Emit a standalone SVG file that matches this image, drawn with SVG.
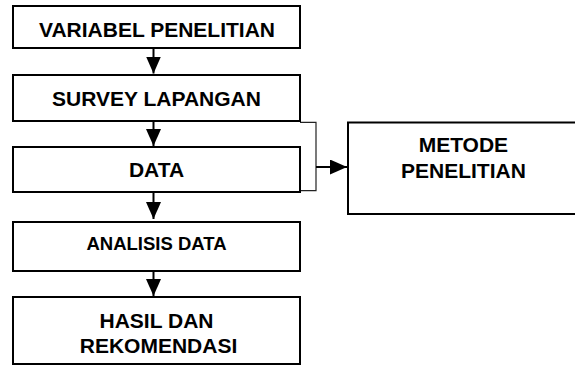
<svg xmlns="http://www.w3.org/2000/svg" width="575" height="365" viewBox="0 0 575 365">
<style>
.box{fill:#fff;stroke:#000;stroke-width:2}
.t{font-family:"Liberation Sans",Arial,sans-serif;font-weight:bold;font-size:21px;fill:#000;text-anchor:middle}
.s{font-size:18.5px}
.c{stroke:#000;stroke-width:2;fill:none}
.b{stroke:#222;stroke-width:1.2;fill:none}
</style>
<defs>
<marker id="ah" markerUnits="userSpaceOnUse" markerWidth="17" markerHeight="15" refX="17" refY="7.5" orient="auto">
<path d="M0,0 L17,7.5 L0,15 Z" fill="#000"/>
</marker>
</defs>
<rect width="575" height="365" fill="#fff"/>
<g id="connectors">
<line class="c" x1="153.5" y1="44" x2="153.5" y2="73.5" marker-end="url(#ah)"/>
<line class="c" x1="153.5" y1="117" x2="153.5" y2="146" marker-end="url(#ah)"/>
<line class="c" x1="153.5" y1="189" x2="153.5" y2="219" marker-end="url(#ah)"/>
<line class="c" x1="153.5" y1="268" x2="153.5" y2="296" marker-end="url(#ah)"/>
<polyline class="b" points="300,122.3 316,122.3 316,190.7 300,190.7"/>
<line class="c" x1="316" y1="167" x2="347" y2="167" marker-end="url(#ah)"/>
</g>
<g id="n1">
<rect class="box" x="13" y="6" width="287" height="42"/>
<text class="t" x="157" y="36.5">VARIABEL PENELITIAN</text>
</g>
<g id="n2">
<rect class="box" x="13" y="75" width="287" height="46"/>
<text class="t" x="156.5" y="106">SURVEY LAPANGAN</text>
</g>
<g id="n3">
<rect class="box" x="13" y="147" width="287" height="45"/>
<text class="t" x="156.5" y="176.5">DATA</text>
</g>
<g id="n4">
<rect class="box" x="13" y="222" width="287" height="49"/>
<text class="t s" x="156.5" y="250">ANALISIS DATA</text>
</g>
<g id="n5">
<rect class="box" x="13" y="297" width="287" height="67"/>
<text class="t" x="156.5" y="328">HASIL DAN</text>
<text class="t" x="158.5" y="353">REKOMENDASI</text>
</g>
<g id="n6">
<rect class="box" x="348" y="122.5" width="235" height="91.5"/>
<text class="t" x="463.4" y="152.3">METODE</text>
<text class="t" x="463.4" y="177.5">PENELITIAN</text>
</g>
</svg>
